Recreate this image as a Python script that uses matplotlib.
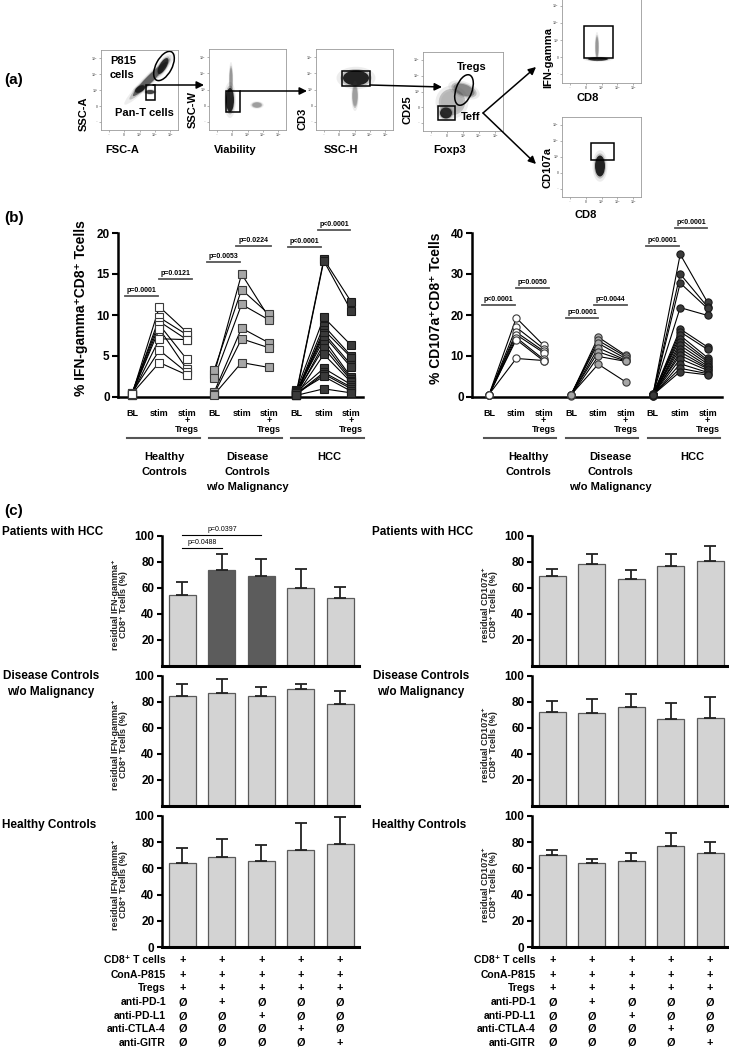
import matplotlib
matplotlib.use('Agg')
import matplotlib.pyplot as plt
from matplotlib.patches import Ellipse, Rectangle
import matplotlib.transforms as mtransforms

# ---------------- data ----------------
conditions = ['BL', 'stim', 'stim+Tregs']
cohorts = [['Healthy', 'Controls'], ['Disease', 'Controls', 'w/o Malignancy'], ['HCC']]

# % IFN-gamma+ CD8+ T cells per subject (BL, stim, stim+Tregs)
ifn_hc_bl = [0.3, 0.4, 0.5, 0.3, 0.4, 0.3, 0.5, 0.4]
ifn_hc_stim = [11.0, 9.7, 9.2, 8.8, 8.3, 7.1, 5.7, 4.2]
ifn_hc_tregs = [7.9, 7.6, 7.0, 4.6, 3.4, 7.0, 3.0, 2.7]
ifn_dc_bl = [2.8, 3.3, 2.3, 0.6, 0.4, 0.3]
ifn_dc_stim = [15.0, 13.1, 11.3, 8.4, 7.1, 4.2]
ifn_dc_tregs = [9.7, 10.1, 9.4, 6.6, 6.0, 3.6]
ifn_hcc_bl = [0.6, 0.4, 0.8, 0.5, 0.3, 0.6, 0.4, 0.7, 0.3, 0.5, 0.2, 0.6, 0.4, 0.3, 0.5, 0.2]
ifn_hcc_stim = [16.8, 16.6, 9.7, 8.7, 8.2, 7.8, 7.5, 7.0, 6.5, 6.0, 5.2, 3.5, 3.0, 2.8, 2.5, 1.0]
ifn_hcc_tregs = [11.6, 10.5, 6.3, 5.0, 4.8, 3.9, 3.6, 2.4, 2.2, 2.0, 1.8, 1.5, 1.2, 1.0, 0.7, 0.5]

# % CD107a+ CD8+ T cells per subject
cd_hc_bl = [0.5, 0.4, 0.6, 0.5, 0.4, 0.5, 0.6]
cd_hc_stim = [19.3, 17.0, 15.8, 15.2, 14.5, 14.0, 9.4]
cd_hc_tregs = [12.6, 11.8, 11.2, 10.8, 9.2, 8.8, 8.9]
cd_dc_bl = [0.4, 0.5, 0.6, 0.4, 0.5, 0.3, 0.5]
cd_dc_stim = [14.6, 13.8, 13.1, 12.0, 11.0, 9.9, 8.0]
cd_dc_tregs = [10.2, 9.9, 9.4, 9.0, 8.8, 8.7, 3.7]
cd_hcc_bl = [0.5, 0.6, 0.4, 0.7, 0.5, 0.3, 0.6, 0.8, 0.4, 0.5, 0.6, 0.3, 0.7, 0.5, 0.4, 0.6, 0.5]
cd_hcc_stim = [34.8, 30.0, 27.8, 21.8, 16.6, 15.9, 15.0, 14.2, 13.4, 12.6, 11.8, 11.0, 10.2, 9.3, 8.1, 7.0, 6.2]
cd_hcc_tregs = [23.1, 22.0, 21.6, 19.9, 12.2, 11.6, 9.6, 9.0, 8.6, 8.1, 7.6, 7.2, 6.9, 6.5, 6.0, 5.7, 5.4]

# significance bars (x start, x end, y, label)
ifn_sig = [(-0.26, 0.95, 12.3, 'p=0.0001'), (0.99, 2.2, 14.4, 'p=0.0121'),
           (2.75, 3.95, 16.5, 'p=0.0053'), (3.8, 5.07, 18.4, 'p=0.0224'),
           (5.7, 6.9, 18.3, 'p<0.0001'), (6.8, 7.95, 20.4, 'p<0.0001')]
cd_sig = [(-0.26, 0.95, 22.4, 'p<0.0001'), (0.99, 2.2, 26.6, 'p=0.0050'),
          (2.82, 4.0, 19.3, 'p=0.0001'), (3.85, 5.05, 22.4, 'p=0.0044'),
          (5.75, 6.96, 36.8, 'p<0.0001'), (6.8, 7.99, 41.2, 'p<0.0001')]

# residual cytokine+ CD8+ T cells (%) per treatment, mean and SD
ifn_hcc_mean = [55, 74, 69, 60, 52]
ifn_hcc_sd = [9.5, 12, 13, 14.5, 9]
ifn_dc_mean = [85, 87, 84.5, 90, 78.5]
ifn_dc_sd = [9, 10.5, 7, 3.5, 10]
ifn_hc_mean = [64.5, 69, 66, 74, 78.5]
ifn_hc_sd = [11, 13.5, 11.5, 21, 20.5]
cd_hcc_mean = [69.5, 78.5, 67, 77, 81]
cd_hcc_sd = [5.5, 7.5, 6.5, 9.5, 11.5]
cd_dc_mean = [72.5, 71.5, 76, 67, 68]
cd_dc_sd = [8, 11, 10.5, 12, 15.5]
cd_hc_mean = [70, 64, 66, 77, 72]
cd_hc_sd = [4, 3, 5.5, 10, 8]
ifn_hcc_sig = [(0, 1, 91, 'p=0.0488'), (0, 2, 101, 'p=0.0397')]

row_labels = ['CD8⁺ T cells', 'ConA-P815', 'Tregs', 'anti-PD-1', 'anti-PD-L1', 'anti-CTLA-4', 'anti-GITR']
row_marks = [['+', '+', '+', '+', '+'],
             ['+', '+', '+', '+', '+'],
             ['+', '+', '+', '+', '+'],
             ['Ø', '+', 'Ø', 'Ø', 'Ø'],
             ['Ø', 'Ø', '+', 'Ø', 'Ø'],
             ['Ø', 'Ø', 'Ø', '+', 'Ø'],
             ['Ø', 'Ø', 'Ø', 'Ø', '+']]

# ---------------- figure ----------------
plt.rcParams['font.family'] = ['Liberation Sans', 'DejaVu Sans']
plt.rcParams['font.weight'] = 'bold'

W, H = 729, 1051
fig = plt.figure(figsize=(7.29, 10.51), dpi=100)


def add_ax(x0, y0, x1, y1):
    return fig.add_axes([x0 / W, 1 - y1 / H, (x1 - x0) / W, (y1 - y0) / H])


ov = fig.add_axes([0, 0, 1, 1], zorder=10)
ov.set_xlim(0, W)
ov.set_ylim(H, 0)
ov.axis('off')
ov.patch.set_alpha(0)


def t(x, y, s, **kw):
    kw.setdefault('ha', 'center')
    kw.setdefault('va', 'center')
    ov.text(x, y, s, **kw)


# ---------------- panel (a): gating ----------------
t(4, 80, '(a)', fontsize=11, ha='left')


def flow(box, clusters, rects, ellipses):
    x0, y0, x1, y1 = box
    ax = add_ax(x0, y0, x1, y1)
    ax.set_xlim(x0, x1)
    ax.set_ylim(y1, y0)
    for s in ax.spines.values():
        s.set_color('#9a9a9a')
        s.set_linewidth(0.6)
    xt = [x0 + (x1 - x0) * f for f in (0.1, 0.3, 0.5, 0.7, 0.9)]
    yt = [y0 + (y1 - y0) * f for f in (0.1, 0.3, 0.5, 0.7, 0.9)]
    ax.set_xticks(xt)
    ax.set_yticks(yt)
    ax.set_xticklabels(['⁻', '0', '10³', '10⁴', '10⁵'], fontsize=2.5, color='#777')
    ax.set_yticklabels(['10⁵', '10⁴', '10³', '0', '⁻'], fontsize=2.5, color='#777')
    ax.tick_params(length=1.5, width=0.4, color='#777', pad=1)
    for (cx, cy, w, h, ang, dens) in clusters:
        for (sc, al, col) in [(1.5, 0.10, '#555'), (1.2, 0.25, '#333'), (1.0, 0.9 * dens, '#111')]:
            ax.add_patch(Ellipse((cx, cy), w * sc, h * sc, angle=-ang, facecolor=col,
                                 alpha=al, edgecolor='none'))
    for (rx0, ry0, rx1, ry1) in rects:
        ax.add_patch(Rectangle((rx0, ry0), rx1 - rx0, ry1 - ry0, fill=False, ec='black', lw=1.1))
    for (cx, cy, w, h, ang) in ellipses:
        ax.add_patch(Ellipse((cx, cy), w, h, angle=-ang, fill=False, ec='black', lw=1.1))
    return ax


flow((101, 50, 178, 130),
     [(150, 79, 48, 7, 45, 0.6), (163, 66, 18, 7, 60, 0.9), (140, 89, 11, 6, 30, 0.9), (150, 92, 4, 9, 90, 0.8)],
     [(146, 85, 155, 100)], [(164, 66, 32, 16, 62)])
t(110, 61, 'P815', fontsize=8, ha='left')
t(110, 75, 'cells', fontsize=8, ha='left')
t(115, 113, 'Pan-T cells', fontsize=8, ha='left')
t(84, 114, 'SSC-A', fontsize=8, rotation=90)
t(122, 150, 'FSC-A', fontsize=8)

flow((209, 49, 286, 130),
     [(230, 100, 8, 24, 0, 1.0), (231, 80, 3, 24, 0, 0.25), (257, 105, 9, 5, 0, 0.2)],
     [(226, 91, 240, 112)], [])
t(193, 110, 'SSC-W', fontsize=8, rotation=90)
t(235, 150, 'Viability', fontsize=8)

flow((316, 49, 393, 130),
     [(356, 78, 26, 15, 0, 1.0), (355, 96, 5, 20, 0, 0.2)],
     [(342, 71, 370, 86)], [])
t(303, 119, 'CD3', fontsize=8, rotation=90)
t(341, 150, 'SSC-H', fontsize=8)

flow((423, 52, 503, 131),
     [(446, 113, 12, 11, 0, 1.0), (464, 90, 11, 22, 70, 0.35), (452, 102, 22, 22, 0, 0.05)],
     [(438, 106, 455, 120)], [(464, 90, 32, 16, 70)])
t(472, 67, 'Tregs', fontsize=8)
t(471, 117, 'Teff', fontsize=8)
t(408, 110, 'CD25', fontsize=8, rotation=90)
t(450, 150, 'Foxp3', fontsize=8)

flow((562, -3, 641, 83),
     [(598, 59, 20, 3.5, 0, 1.0), (597, 47, 3, 20, 0, 0.25)],
     [(584, 26, 613, 58)], [])
t(548, 57, 'IFN-gamma', fontsize=8, rotation=90)
t(588, 98, 'CD8', fontsize=8)

flow((562, 117, 641, 197),
     [(600, 166, 10, 21, 0, 1.0)],
     [(591, 143, 614, 160)], [])
t(548, 168, 'CD107a', fontsize=8, rotation=90)
t(586, 215, 'CD8', fontsize=8)

arrows = [((153, 85), (204, 85)), ((240, 91), (307, 91)), ((370, 85), (442, 87)),
          ((483, 113), (536, 67)), ((483, 113), (536, 164))]
for (s, e) in arrows:
    ov.annotate('', xy=e, xytext=s,
                arrowprops=dict(arrowstyle='-|>', color='black', lw=1.1, mutation_scale=11,
                                shrinkA=0, shrinkB=0))

# ---------------- panel (b): paired plots ----------------
t(4, 218, '(b)', fontsize=11, ha='left')

fills = ['white', '#a6a6a6', '#3a3a3a']
edges = ['#3a3a3a', '#3a3a3a', '#1a1a1a']


def paired(box, data, marker, ylim, yticks, sig, ylabel, ylab_x, xlim, lbl_shift):
    ax = add_ax(*box)
    for gi, (bl, st, tr) in enumerate(data):
        xs = [gi * 3, gi * 3 + 1, gi * 3 + 2]
        for a, b, c in zip(bl, st, tr):
            ax.plot(xs, [a, b, c], color='black', lw=0.8, zorder=2, clip_on=False)
        for xi, vals in zip(xs, (bl, st, tr)):
            ax.plot([xi] * len(vals), vals, ls='none', marker=marker, ms=5.2,
                    mfc=fills[gi], mec=edges[gi], mew=0.8, zorder=3, clip_on=False)
    ax.set_xlim(*xlim)
    ax.set_ylim(*ylim)
    ax.set_yticks(yticks)
    ax.set_xticks([])
    for s in ('top', 'right'):
        ax.spines[s].set_visible(False)
    ax.spines['left'].set_linewidth(1.8)
    ax.spines['bottom'].set_linewidth(1.8)
    ax.tick_params(axis='y', length=4, width=1.5, labelsize=8.5, pad=2)
    for (xa, xb, y, lab) in sig:
        ax.plot([xa, xb], [y, y], color='#555555', lw=1.3, clip_on=False)
        ax.annotate(lab, ((xa + xb) / 2, y), xytext=(0, 1.2), textcoords='offset points',
                    ha='center', va='bottom', fontsize=5, annotation_clip=False)
    ax.text(ylab_x, 0.54, ylabel, transform=ax.transAxes, rotation=90,
            ha='center', va='center', fontsize=10)
    tr_ = mtransforms.blended_transform_factory(ax.transData, ov.transData)
    for gi in range(3):
        for ci, cond in enumerate(conditions):
            xi = gi * 3 + ci
            if cond == 'stim+Tregs':
                for li, part in enumerate(['stim', '+', 'Tregs']):
                    ov.text(xi, 413 + 8 * li, part, transform=tr_, ha='center', va='center', fontsize=6.5)
            else:
                ov.text(xi, 413, cond, transform=tr_, ha='center', va='center', fontsize=6.5)
        xa, xb = gi * 3 - 0.18, gi * 3 + 2.47
        ov.plot([xa, xb], [438, 438], color='#555555', lw=1.5, transform=tr_, clip_on=False)
        for li, part in enumerate(cohorts[gi]):
            ov.text((xa + xb) / 2 + lbl_shift, 457 + 15 * li, part, transform=tr_,
                    ha='center', va='center', fontsize=8)
    return ax


paired((118, 233, 363, 397),
       [(ifn_hc_bl, ifn_hc_stim, ifn_hc_tregs), (ifn_dc_bl, ifn_dc_stim, ifn_dc_tregs),
        (ifn_hcc_bl, ifn_hcc_stim, ifn_hcc_tregs)],
       's', (0, 20), [0, 5, 10, 15, 20], ifn_sig, '% IFN-gamma⁺CD8⁺ Tcells', -0.152,
       (-0.51, 8.43), 0.05)
paired((472, 233, 722, 397),
       [(cd_hc_bl, cd_hc_stim, cd_hc_tregs), (cd_dc_bl, cd_dc_stim, cd_dc_tregs),
        (cd_hcc_bl, cd_hcc_stim, cd_hcc_tregs)],
       'o', (0, 40), [0, 10, 20, 30, 40], cd_sig, '% CD107a⁺CD8⁺ Tcells', -0.146,
       (-0.62, 8.53), 0.3)

# ---------------- panel (c): bars ----------------
t(4, 511, '(c)', fontsize=11, ha='left')

light = '#d3d3d3'
dark = '#5c5c5c'


def bars(box, means, sds, colors, ylab1, ylab2, zero, sig=()):
    ax = add_ax(*box)
    x = list(range(len(means)))
    ax.bar(x, means, width=0.685, color=colors, edgecolor='#5a5a5a', linewidth=0.9, zorder=2)
    ax.errorbar(x, means, yerr=[[0] * len(sds), sds], fmt='none', ecolor='#222222',
                elinewidth=1.3, capsize=4.5, capthick=1.3, zorder=3)
    ax.set_xlim(-0.52, 4.48)
    ax.set_ylim(0, 100)
    ax.set_yticks([0, 20, 40, 60, 80, 100] if zero else [20, 40, 60, 80, 100])
    ax.set_xticks([])
    for s in ('top', 'right'):
        ax.spines[s].set_visible(False)
    ax.spines['left'].set_linewidth(1.8)
    ax.spines['bottom'].set_linewidth(2.2)
    ax.tick_params(axis='y', length=3.5, width=1.5, labelsize=8.5, pad=2)
    axw = box[2] - box[0]
    ax.text(-47 / axw, 0.475, ylab1, transform=ax.transAxes, rotation=90, ha='center',
            va='center', fontsize=6.5, color='#222')
    ax.text(-38 / axw, 0.475, ylab2, transform=ax.transAxes, rotation=90, ha='center',
            va='center', fontsize=6.5, color='#222')
    for (xa, xb, y, lab) in sig:
        ax.plot([xa, xb], [y, y], color='black', lw=0.8, clip_on=False)
        ax.annotate(lab, ((xa + xb) / 2, y), xytext=(0, 1.0), textcoords='offset points',
                    ha='center', va='bottom', fontsize=5, fontweight='normal', annotation_clip=False)
    return ax


rows_y = [(536, 666), (676, 806), (816, 947)]
left_specs = [(ifn_hcc_mean, ifn_hcc_sd, [light, dark, dark, light, light], ifn_hcc_sig),
              (ifn_dc_mean, ifn_dc_sd, [light] * 5, ()),
              (ifn_hc_mean, ifn_hc_sd, [light] * 5, ())]
right_specs = [(cd_hcc_mean, cd_hcc_sd, [light] * 5, ()),
               (cd_dc_mean, cd_dc_sd, [light] * 5, ()),
               (cd_hc_mean, cd_hc_sd, [light] * 5, ())]
last_axes = []
for col, (xl, specs, lab1) in enumerate([(162, left_specs, 'residual IFN-gamma⁺'),
                                         (532, right_specs, 'residual CD107a⁺')]):
    for ri, ((ya, yb), (m, sd, cols, sg)) in enumerate(zip(rows_y, specs)):
        a = bars((xl, ya, xl + 197, yb), m, sd, cols, lab1, 'CD8⁺ Tcells (%)', ri == 2, sg)
        if ri == 2:
            last_axes.append(a)
    off = 370 * col
    t(2 + off, 532, 'Patients with HCC', fontsize=8.5, ha='left')
    t(51 + off, 676, 'Disease Controls', fontsize=8.5)
    t(51 + off, 692, 'w/o Malignancy', fontsize=8.5)
    t(2 + off, 825, 'Healthy Controls', fontsize=8.5, ha='left')

rows_py = [960, 975, 988, 1002, 1016, 1029, 1043]
for ax, lx in zip(last_axes, [166, 536]):
    tr_ = mtransforms.blended_transform_factory(ax.transData, ov.transData)
    for lab, marks, py in zip(row_labels, row_marks, rows_py):
        t(lx, py, lab, fontsize=7.5, ha='right')
        for xi, mk in enumerate(marks):
            ov.text(xi, py, mk, transform=tr_, ha='center', va='center', fontsize=7.8)

fig.savefig('out.png', dpi=100)
